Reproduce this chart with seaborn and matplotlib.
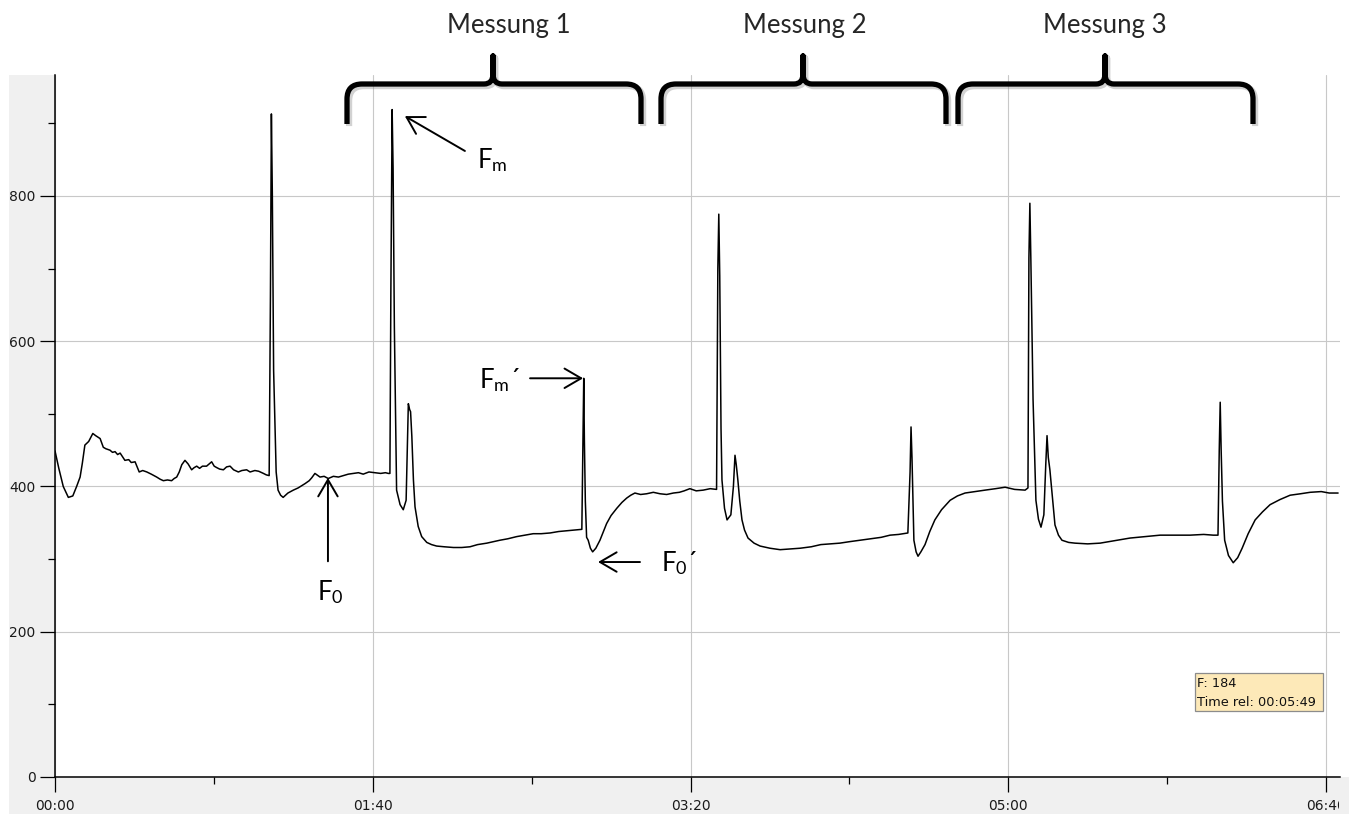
import matplotlib
matplotlib.use("Agg")
import matplotlib.patheffects as pe
import matplotlib.pyplot as plt
import pandas as pd
import seaborn as sns
from matplotlib.patches import PathPatch, Rectangle
from matplotlib.path import Path
from matplotlib.ticker import FuncFormatter, MultipleLocator
from matplotlib.transforms import Bbox, TransformedBbox

# fluorescence trace (time in s, F in a.u.)
time_s = [
    0.0, 1.2, 2.6, 4.2, 5.6, 6.8, 7.9, 8.6, 9.4, 10.6, 11.9, 12.8, 14.2, 15.2, 16.0, 17.3,
    18.1, 18.9, 19.7, 20.5, 22.0, 23.2, 24.0, 25.2, 26.5, 27.6, 28.9, 30.3, 32.0, 33.1, 34.1,
    35.4, 36.7, 37.5, 38.3, 39.1, 39.9, 40.9, 41.9, 43.0, 43.8, 44.6, 45.5, 46.4, 47.7, 48.5,
    49.3, 50.1, 50.9, 51.8, 53.0, 54.0, 55.1, 56.2, 57.7, 58.8, 60.3, 61.4, 62.9, 64.1, 65.6,
    66.5, 67.4,
    67.8, 68.1, 68.4, 68.8, 69.6, 70.2, 71.0, 71.8, 73.3, 75.0, 76.5, 78.7, 80.0, 80.8, 81.8,
    83.4, 84.7, 86.0, 87.6, 89.2, 90.8, 92.3, 94.0, 95.5, 97.0, 98.8, 100.7, 102.5, 104.0,
    104.9, 105.4,
    105.7, 106.1, 106.4, 106.8, 107.5, 108.6, 109.6, 110.5, 111.2, 111.6, 111.9, 112.3, 112.8,
    113.3, 114.3, 115.4, 117.0, 118.5, 120.1, 122.5, 125.4, 128.0, 130.6, 133.0, 135.9, 138.0,
    140.0, 142.5, 145.3, 148.0, 150.5, 153.0, 155.8, 158.5, 161.0, 163.5, 165.8,
    166.1, 166.4, 166.6, 166.9, 167.3, 167.8, 168.5, 169.2, 170.2, 171.5, 173.6, 175.0, 176.8,
    178.4, 179.9, 181.2, 182.5, 184.3, 186.2, 188.3, 190.4, 192.5, 194.6, 196.5, 198.0, 199.8,
    201.8, 204.0, 206.2, 208.2,
    208.6, 208.9, 209.2, 209.6, 209.9, 210.7, 211.5, 212.7, 213.5, 214.0, 214.4, 214.9, 215.5,
    216.2, 217.0, 218.1, 220.0, 221.9, 225.0, 228.2, 231.5, 234.5, 238.0, 241.0, 243.9, 247.0,
    250.0, 253.3, 256.5, 260.0, 262.8, 265.5, 268.4,
    269.1, 269.4, 269.7, 270.3, 271.0, 271.6, 272.5, 273.8, 275.3, 276.9, 279.0, 281.7, 284.0,
    286.4, 289.5, 292.7, 296.0, 299.0, 302.0, 305.3, 306.2,
    306.5, 306.8, 307.1, 307.8, 308.7, 309.5, 310.3, 311.2, 311.8, 312.2, 312.6, 313.1, 314.0,
    314.7, 315.8, 316.9, 319.0, 321.0, 325.0, 328.9, 333.0, 338.3, 343.0, 347.8, 352.5, 357.2,
    361.5, 364.5, 366.0,
    366.4, 366.7, 367.0, 367.4, 368.1, 369.3, 370.8, 372.2, 373.6, 375.5, 377.7, 380.0, 382.4,
    385.5, 388.7, 392.0, 395.0, 398.5, 401.0, 403.8,
]
fluor = [
    449, 425, 400, 385, 387, 400, 413, 432, 457, 462, 473, 470, 466, 454, 452, 450,
    447, 448, 444, 446, 436, 437, 433, 434, 420, 422, 420, 417, 413, 410, 408,
    409, 408, 411, 413, 420, 430, 436, 431, 423, 426, 428, 425, 428, 428, 431,
    434, 428, 426, 424, 423, 427, 428, 423, 420, 422, 423, 420, 422, 421, 418,
    416, 415,
    663, 913, 800, 560, 420, 395, 388, 385, 391, 395, 398, 404, 408, 412, 418,
    413, 414, 411, 414, 413, 415, 417, 418, 419, 417, 420, 419, 418, 419,
    418, 418,
    668, 919, 838, 620, 395, 375, 368, 381, 514, 506, 503, 469, 409,
    372, 345, 331, 323, 320, 318, 317, 316, 316, 317, 320, 322, 324,
    326, 328, 331, 333, 335, 335, 336, 338, 339, 340, 341,
    443, 549, 464, 380, 330, 326, 315, 310, 315, 326, 349, 360, 370,
    378, 384, 388, 391, 389, 390, 392, 390, 389, 391, 392, 394, 397,
    394, 395, 397, 396,
    700, 775, 690, 480, 409, 370, 354, 361, 400, 443, 430, 409, 380,
    354, 340, 329, 322, 318, 315, 313, 314, 315, 317, 320, 321, 322,
    324, 326, 328, 330, 333, 334, 336,
    420, 482, 440, 326, 310, 304, 310, 320, 338, 354, 368, 381, 387,
    391, 393, 395, 397, 399, 396, 395, 398,
    715, 790, 715, 520, 381, 355, 344, 361, 430, 470, 440, 423, 380,
    347, 333, 326, 323, 322, 321, 322, 325, 329, 331, 333, 333, 333,
    334, 333, 333,
    450, 516, 450, 380, 326, 305, 295, 302, 315, 335, 354, 365, 375,
    382, 388, 390, 392, 393, 391, 391,
]

measure_labels = ["Messung 1", "Messung 2", "Messung 3"]
tooltip_lines = ["F: 184", "Time rel: 00:05:49"]

W, H = 1349, 814


def mmss(v, _pos):
    v = int(round(v))
    return f"{v // 60:02d}:{v % 60:02d}"


def brace_path(xl, xr, xc, y_end=124, y_bar=84, y_tip=56, r=15):
    verts = [
        (xl, y_end), (xl, y_bar + r), (xl, y_bar), (xl + r, y_bar),
        (xc - 9, y_bar), (xc, y_bar), (xc, y_bar - 10), (xc, y_tip),
        (xc, y_bar - 10), (xc, y_bar), (xc + 9, y_bar),
        (xr - r, y_bar), (xr, y_bar), (xr, y_bar + r), (xr, y_end),
    ]
    codes = [
        Path.MOVETO, Path.LINETO, Path.CURVE3, Path.CURVE3,
        Path.LINETO, Path.CURVE3, Path.CURVE3, Path.LINETO,
        Path.LINETO, Path.CURVE3, Path.CURVE3,
        Path.LINETO, Path.CURVE3, Path.CURVE3, Path.LINETO,
    ]
    return Path(verts, codes)


def main() -> None:
    sns.set_theme(style="white")
    plt.rcParams["font.family"] = ["DejaVu Sans"]
    plt.rcParams["mathtext.fontset"] = "custom"
    plt.rcParams["mathtext.rm"] = "Lato"
    plt.rcParams["mathtext.it"] = "Lato:italic"
    plt.rcParams["mathtext.bf"] = "Lato:bold"

    df = pd.DataFrame({"t": time_s, "F": fluor})

    fig = plt.figure(figsize=(W / 100, H / 100), dpi=100, facecolor="white")
    fig.add_artist(Rectangle((9 / W, 0), 1 - 9 / W, 1 - 75 / H, transform=fig.transFigure,
                             facecolor="#f0f0f0", edgecolor="none", zorder=0))
    fig.add_artist(Rectangle((1340 / W, 1 - 777 / H), 9 / W, (777 - 75) / H,
                             transform=fig.transFigure, facecolor="white", edgecolor="none",
                             zorder=0.5))

    ax = fig.add_axes([55 / W, 1 - 777 / H, (1340 - 55) / W, (777 - 75) / H], zorder=2)
    ax.set_facecolor("white")
    sns.lineplot(data=df, x="t", y="F", sort=False, estimator=None, color="black",
                 linewidth=1.1, ax=ax)
    ax.set_xlim(0, 404.4)
    ax.set_ylim(0, 966.6)
    ax.set_xlabel("")
    ax.set_ylabel("")

    ax.xaxis.set_major_locator(MultipleLocator(100))
    ax.xaxis.set_minor_locator(MultipleLocator(50))
    ax.xaxis.set_major_formatter(FuncFormatter(mmss))
    ax.yaxis.set_major_locator(MultipleLocator(200))
    ax.yaxis.set_minor_locator(MultipleLocator(100))
    ax.grid(True, which="major", color="#c8c8c8", linewidth=0.8)
    ax.set_axisbelow(True)
    for side in ("top", "right"):
        ax.spines[side].set_visible(False)
    for side in ("left", "bottom"):
        ax.spines[side].set_color("black")
        ax.spines[side].set_linewidth(1.1)
    ax.tick_params(which="major", direction="out", length=10.5, width=0.9, color="black",
                   labelsize=10, labelcolor="#1a1a1a", pad=3.5, bottom=True, left=True)
    ax.tick_params(axis="x", which="major", pad=5)
    ax.tick_params(which="minor", direction="out", length=5, width=0.9, color="black",
                   bottom=True, left=True)

    # annotations on the trace
    arrow = dict(arrowstyle="->,head_length=0.6,head_width=0.35", color="black", lw=1.4,
                 shrinkA=0, shrinkB=0, mutation_scale=20)
    lab = dict(fontsize=18.5, ha="center", va="center", color="black",
               family=["Lato", "DejaVu Sans"])
    ax.annotate("", xy=(110.1, 910), xytext=(129.0, 862), arrowprops=arrow, annotation_clip=False)
    ax.text(137.5, 850, "F$_\\mathrm{m}$", **lab)
    ax.annotate("", xy=(166.2, 549), xytext=(149.5, 549), arrowprops=arrow, annotation_clip=False)
    ax.text(140.0, 547, "F$_\\mathrm{m}$\u00b4", **lab)
    ax.annotate("", xy=(85.9, 412), xytext=(85.9, 297), arrowprops=arrow, annotation_clip=False)
    ax.text(86.5, 255, "F$_\\mathrm{0}$", **lab)
    ax.annotate("", xy=(170.9, 296), xytext=(184.1, 296), arrowprops=arrow, annotation_clip=False)
    ax.text(196.5, 295, "F$_\\mathrm{0}$\u00b4", **lab)

    # overlay in pixel coordinates for braces, titles and tooltip
    ov = fig.add_axes([0, 0, 1, 1], zorder=5)
    ov.set_xlim(0, W)
    ov.set_ylim(H, 0)
    ov.axis("off")
    ov.patch.set_alpha(0)

    brace_spans = [(347, 641, 493), (661, 946, 803), (958, 1253, 1105)]
    label_x = [509, 805, 1105]
    for (xl, xr, xc), lx, name in zip(brace_spans, label_x, measure_labels):
        patch = PathPatch(brace_path(xl, xr, xc), facecolor="none", edgecolor="black",
                          linewidth=3.8, capstyle="butt", joinstyle="round")
        patch.set_path_effects([pe.SimpleLineShadow(offset=(1.5, -1.5), shadow_color="gray",
                                                    alpha=0.35, linewidth=4.5), pe.Normal()])
        ov.add_patch(patch)
        ov.text(lx, 26, name, fontsize=18.5, ha="center", va="center",
                family=["Lato", "DejaVu Sans"])

    ov.add_patch(Rectangle((1195, 673), 128, 38, facecolor="#fde9b8", edgecolor="#8c8c8c",
                           linewidth=0.9))
    ov.text(1197, 683.5, tooltip_lines[0], fontsize=9.3, ha="left", va="center", color="#111111")
    ov.text(1197, 702, tooltip_lines[1], fontsize=9.3, ha="left", va="center", color="#111111")

    # the 06:40 label is cut off by the widget edge in the screenshot
    fig.canvas.draw()
    clip = TransformedBbox(Bbox.from_extents(0, 0, 1339 / W, 1), fig.transFigure)
    for tick in ax.xaxis.get_major_ticks():
        tick.label1.set_clip_on(True)
        tick.label1.set_clip_box(clip)

    fig.savefig("out.png", dpi=100, facecolor="white")
    plt.close(fig)


if __name__ == "__main__":
    main()
